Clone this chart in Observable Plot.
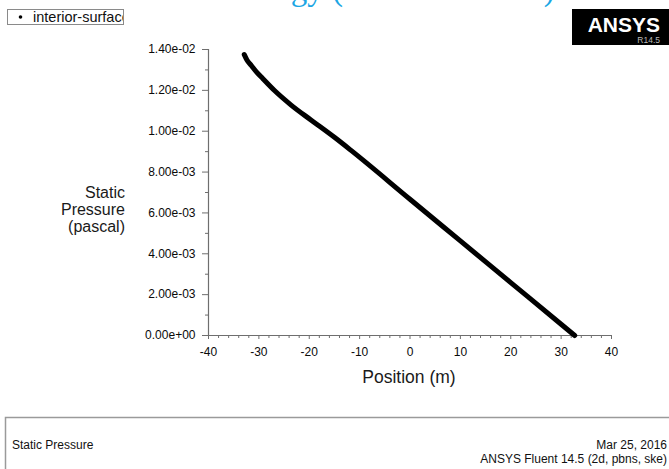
<!DOCTYPE html>
<html>
<head>
<meta charset="utf-8">
<script src="https://cdn.jsdelivr.net/npm/d3@7"></script>
<script src="https://cdn.jsdelivr.net/npm/@observablehq/plot@0.6"></script>
<style>
  body { margin: 0; background: #fff; }
  #page { position: relative; width: 669px; height: 469px; overflow: hidden; background: #fff;
          font-family: "Liberation Sans", Arial, sans-serif; }
  #page > svg { position: absolute; left: 0; top: 0; }
  .ytitle { position: absolute; right: 544px; top: 184px; text-align: right; font-size: 16px;
            line-height: 17px; color: #1a1a1a; }
  .xtitle { position: absolute; left: 309px; width: 200px; top: 367px; text-align: center;
            font-size: 17.5px; line-height: 20px; color: #1a1a1a; }
</style>
</head>
<body>
<div id="page">
  <div class="ytitle">Static<br>Pressure<br>(pascal)</div>
  <div class="xtitle">Position (m)</div>
</div>
<script>
// Static pressure along the interior surface (Fluent XY plot export)
const positions = [-32.9, -32.4, -31.5, -30.4, -29.2, -26.9, -23.6, -19.6, -15.0, -11.7, 0, 10, 20, 30, 32.7];
const pressures = [0.01375, 0.01350, 0.01322, 0.01288, 0.01257, 0.01199, 0.01128, 0.01054, 0.00970, 0.00906,
                   0.00667, 0.00463, 0.00259, 0.00055, 0];

const yTicks = [0, 0.002, 0.004, 0.006, 0.008, 0.010, 0.012, 0.014];
const yMinorTicks = [0.001, 0.003, 0.005, 0.007, 0.009, 0.011, 0.013];
const xTicks = [-40, -30, -20, -10, 0, 10, 20, 30, 40];
const xMinorTicks = [-38, -36, -34, -32, -28, -26, -24, -22, -18, -16, -14, -12, -8, -6, -4, -2,
                     2, 4, 6, 8, 12, 14, 16, 18, 22, 24, 26, 28, 32, 34, 36, 38];

const points = positions.map((position, i) => ({position, pressure: pressures[i]}));

// Fluent-style scientific labels: 1.40e-02, 0.00e+00
function sci(d) {
  const [m, e] = d.toExponential(2).split("e");
  const n = +e;
  return m + "e" + (n < 0 ? "-" : "+") + String(Math.abs(n)).padStart(2, "0");
}

const axisGray = "#6e6e6e";

const chart = Plot.plot({
  width: 669,
  height: 469,
  marginLeft: 208,
  marginRight: 58,
  marginTop: 49,
  marginBottom: 134,
  x: {domain: [-40, 40]},
  y: {domain: [0, 0.014]},
  style: {fontFamily: "'Liberation Sans', Arial, sans-serif", fontSize: "12px", color: "#111", background: "transparent"},
  marks: [
    Plot.axisY(yTicks, {tickSize: 6, tickPadding: 7, tickFormat: sci, stroke: axisGray, fill: "#0a0a0a", label: null}),
    Plot.axisY(yMinorTicks, {tickSize: 3, tickFormat: () => "", stroke: axisGray, label: null}),
    Plot.axisX(xTicks, {tickSize: 4, tickPadding: 8, tickFormat: d => String(d), stroke: axisGray, fill: "#0a0a0a", label: null}),
    Plot.axisX(xMinorTicks, {tickSize: 3, tickFormat: () => "", stroke: axisGray, label: null}),
    Plot.ruleX([-40], {stroke: axisGray, strokeWidth: 1.2}),
    Plot.ruleY([0], {stroke: axisGray, strokeWidth: 1.2}),
    Plot.line(points, {x: "position", y: "pressure", curve: "monotone-x", stroke: "#000", strokeWidth: 5,
                       strokeLinecap: "round", strokeLinejoin: "round"})
  ]
});

const page = document.getElementById("page");
page.insertBefore(chart, page.firstChild);

// Decorations around the plot: slide title, legend, logo, footer panel
const ns = "http://www.w3.org/2000/svg";
const deco = document.createElementNS(ns, "svg");
deco.setAttribute("width", 669);
deco.setAttribute("height", 469);
deco.innerHTML = `
  <defs><clipPath id="legclip"><rect x="8" y="10" width="115" height="14"/></clipPath></defs>
  <text x="146" y="-0.5" font-family="'Liberation Serif', 'DejaVu Serif', serif" font-size="33" fill="#1ba6e4">Methodology (ANSYS Fluent)</text>
  <rect x="7.5" y="9.5" width="116" height="15" fill="#fff" stroke="#8a8a8a" stroke-width="1"/>
  <circle cx="20.5" cy="17" r="1.8" fill="#000"/>
  <text x="33" y="21.5" clip-path="url(#legclip)" font-family="'Liberation Sans', Arial, sans-serif" font-size="14.5" fill="#111">interior-surface</text>
  <rect x="572" y="9" width="97" height="36" fill="#000"/>
  <text x="660" y="32" text-anchor="end" font-family="'Liberation Sans', Arial, sans-serif" font-weight="bold" font-size="21" fill="#fff">ANSYS</text>
  <text x="660" y="42.5" text-anchor="end" font-family="'Liberation Sans', Arial, sans-serif" font-size="8.5" fill="#b8b8b8">R14.5</text>
  <path d="M5.5,469 V417.5 H669" fill="none" stroke="#9a9a9a" stroke-width="1.5"/>
  <text x="12" y="449" font-family="'Liberation Sans', Arial, sans-serif" font-size="12" fill="#111">Static Pressure</text>
  <text x="667" y="449" text-anchor="end" font-family="'Liberation Sans', Arial, sans-serif" font-size="12" fill="#111">Mar 25, 2016</text>
  <text x="667" y="463" text-anchor="end" font-family="'Liberation Sans', Arial, sans-serif" font-size="12" fill="#111">ANSYS Fluent 14.5 (2d, pbns, ske)</text>
`;
page.appendChild(deco);
</script>
</body>
</html>
